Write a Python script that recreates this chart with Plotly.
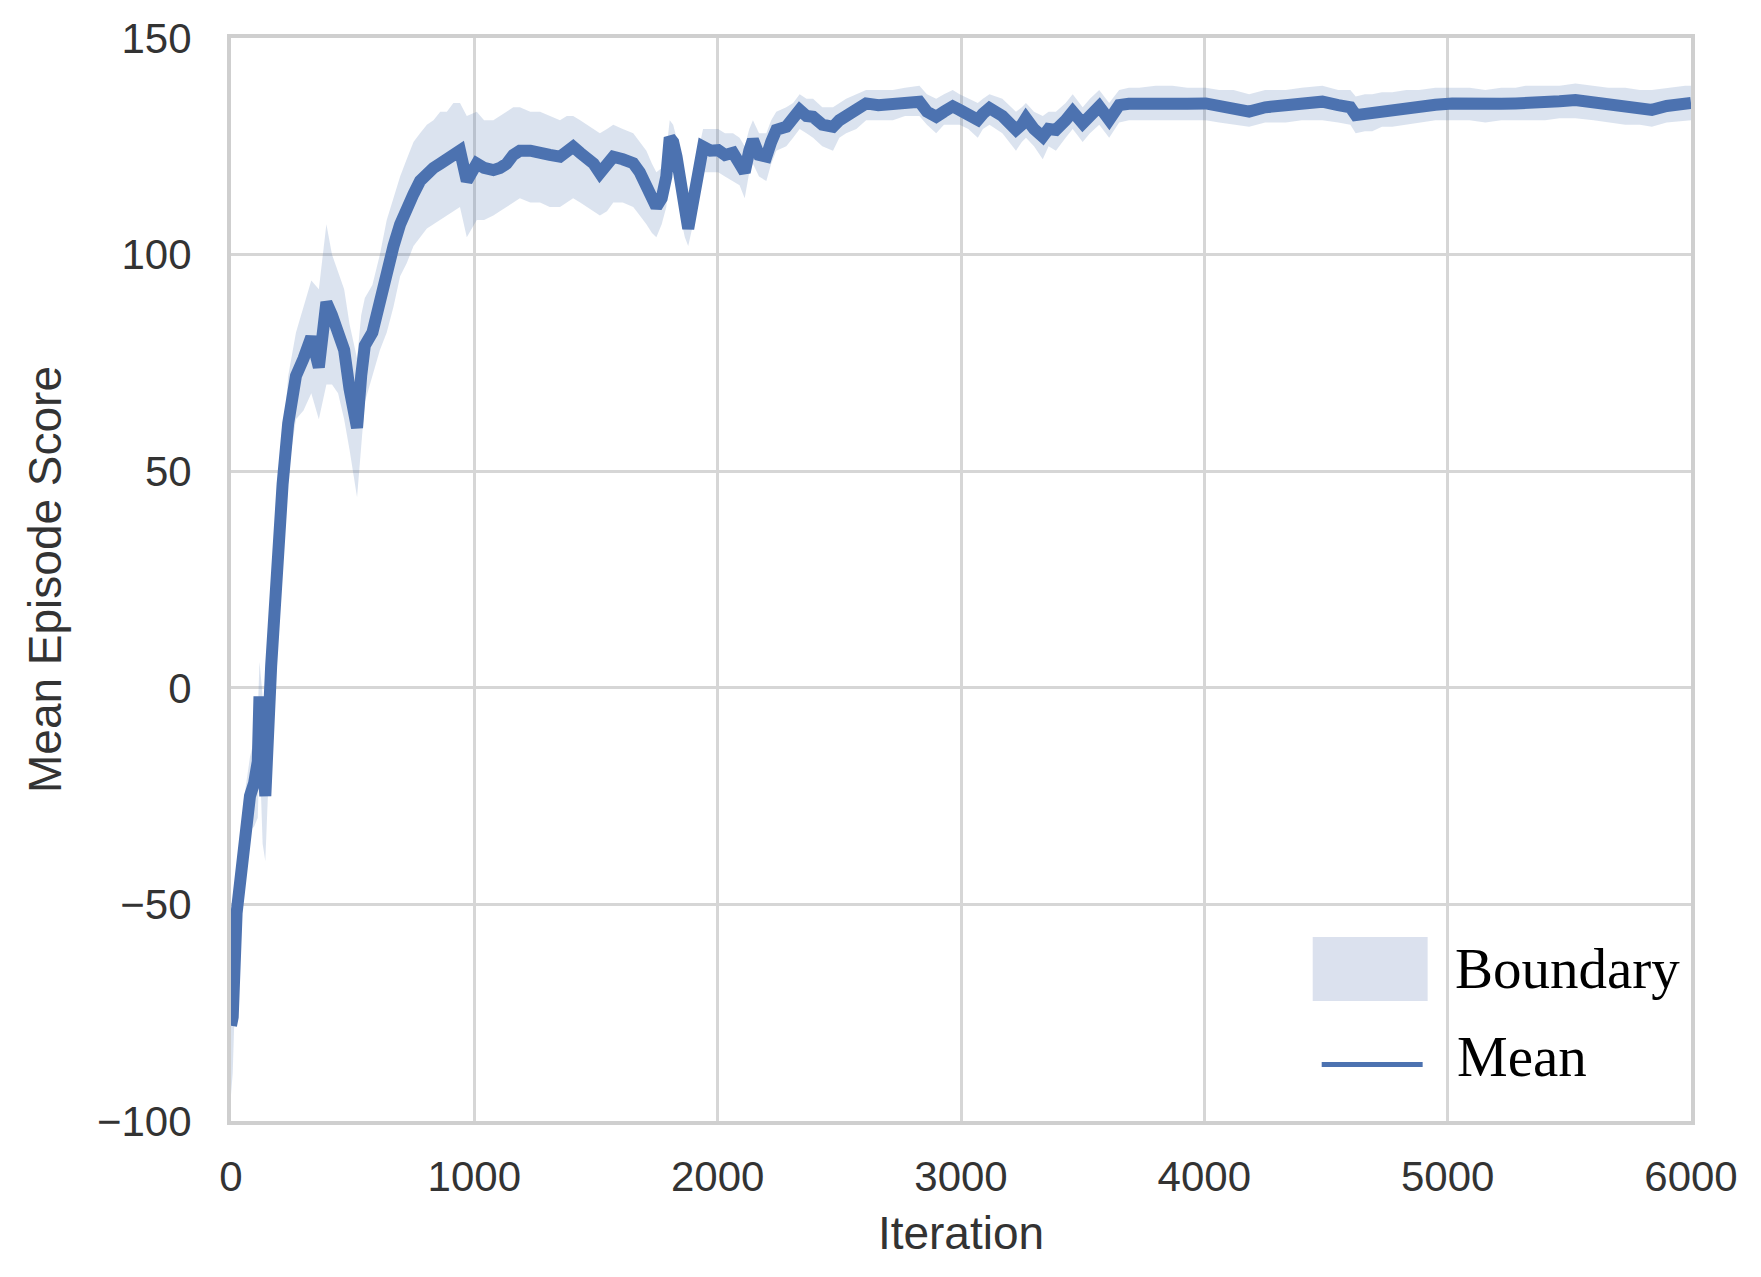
import plotly.graph_objects as go

# iteration positions
iteration = [
    0, 7, 23, 40, 55, 78, 95, 110, 117, 130, 141, 165, 188, 212, 235, 267, 298, 330, 361, 392,
    415, 440, 465, 487, 518, 535, 550, 581, 612, 640, 668, 695, 722, 750, 777, 805, 832, 860, 887, 914,
    941, 969, 1010, 1040, 1078, 1105, 1133, 1160, 1187, 1230, 1270, 1310, 1352, 1380, 1406, 1435, 1461, 1490, 1516, 1545,
    1571, 1610, 1653, 1680, 1707, 1730, 1748, 1770, 1789, 1803, 1817, 1831, 1850, 1865, 1879, 1895, 1913, 1940, 1970, 2002,
    2030, 2063, 2090, 2111, 2130, 2145, 2170, 2200, 2220, 2241, 2282, 2310, 2337, 2365, 2392, 2430, 2474, 2500, 2528, 2570,
    2610, 2660, 2720, 2770, 2829, 2860, 2898, 2930, 2966, 2994, 3030, 3069, 3090, 3117, 3170, 3226, 3250, 3267, 3300, 3336,
    3360, 3390, 3430, 3459, 3500, 3530, 3568, 3609, 3650, 3690, 3732, 3800, 3869, 3930, 4006, 4061, 4120, 4184, 4250, 4335,
    4400, 4485, 4550, 4600, 4622, 4660, 4690, 4730, 4772, 4830, 4882, 4950, 5019, 5090, 5155, 5220, 5279, 5320, 5400, 5460,
    5525, 5600, 5660, 5730, 5790, 5839, 5900, 5976, 6000,
]

mean_score = [
    -78, -76, -52, -42, -34, -25, -22, -17, -2, -18, -25, 5, 28, 47, 61, 72, 76, 81, 74, 89,
    86, 82, 78, 69, 60, 72, 79, 82, 90, 96, 102, 107, 111, 114, 117, 119, 120, 121, 122, 123,
    124, 117, 121, 120, 119.5, 120, 121, 123, 124, 124, 123.8, 123, 122.6, 123.5, 124.9, 123.5, 122.6, 121, 118.8, 121,
    122.6, 122, 121.1, 119, 115.7, 113, 111, 113, 118, 127, 126, 122.6, 116, 110, 106, 111, 116, 124.9, 124, 124.1,
    123, 123.5, 121, 119, 124, 126.5, 123, 122.6, 126, 128.8, 129.5, 131, 133.4, 132, 131.8, 130, 129.5, 131, 131.8, 133,
    134.9, 134.5, 134.9, 135, 135.3, 133, 131.8, 133, 134.2, 133.4, 132, 131.1, 132.5, 133.8, 132, 128.8, 130, 131.5, 129, 127.2,
    129, 128.8, 131, 133, 130.3, 132, 134.2, 131.1, 134.5, 134.8, 134.9, 135, 135.3, 134.8, 134.9, 134.5, 134, 133, 134, 134.5,
    134.8, 135.3, 134.5, 134, 132.2, 132.5, 132.6, 133.5, 133.4, 134, 134.2, 134.6, 134.9, 134.7, 134.5, 134.8, 134.9, 134.9, 135.2, 135.4,
    135.7, 135, 134.6, 134.2, 133.8, 133.4, 134.3, 134.9, 135,
]

boundary_low = [
    -94, -89, -60, -52, -42, -33, -32, -30, -14, -36, -40, -6, 18, 38, 50, 62, 64, 68, 62, 70,
    70, 68, 62, 55, 44, 56, 66, 72, 78, 82, 88, 95, 98, 102, 104, 106, 107, 108, 109, 110,
    111, 104, 108, 108, 109, 110, 111, 112, 113, 112, 112, 111, 111, 112, 113, 112, 111, 110, 109, 110,
    112, 112, 111, 109, 107, 105, 104, 107, 111, 121, 120, 115, 108, 104, 102, 106, 111, 119, 119, 119,
    118, 117, 116, 113, 119, 121, 118, 117, 121, 124, 125, 127, 129, 128, 127, 125, 124, 127, 128, 129,
    131, 131, 131, 132, 132, 130, 128, 130, 130, 130, 129, 127, 129, 130, 128, 124, 126, 127, 125, 122,
    125, 124, 127, 129, 126, 128, 130, 127, 130.5, 131, 131, 131, 131, 131, 131, 130.5, 130, 129.5, 130.5, 130.5,
    131, 131, 130.5, 130, 128, 128.5, 128.5, 129.5, 129.5, 130, 130.5, 131, 131, 131, 130.5, 131, 131, 131, 131, 131.5,
    131.5, 131, 130.5, 130, 130, 129.5, 130.5, 131, 131,
]

boundary_high = [
    -66, -64, -44, -34, -25, -16, -12, -6, 6, -2, -12, 14, 38, 56, 72, 82, 88, 94, 92, 107,
    100, 96, 92, 84, 76, 86, 90, 93, 100, 108, 113, 118, 122, 126, 128, 130, 131, 133, 133, 135,
    135, 132, 133, 131, 131, 132, 133, 134, 134, 133, 133, 132, 131, 132, 132, 131, 130, 129, 128, 129,
    130, 129, 128, 126, 124, 121, 119, 120, 124, 131, 130, 127, 122, 117, 114, 118, 122, 129, 129, 129,
    128, 128, 127, 125, 129, 131, 128, 128, 131, 133, 134, 135, 137, 136, 136, 134, 134, 135, 136, 137,
    138, 138, 138, 138.5, 139, 137, 136, 137, 138, 137, 136, 135, 136, 137, 136, 133, 134, 135, 133, 132,
    133, 133, 135, 137, 134, 136, 138, 135, 138, 138.5, 138.5, 139, 139, 138.5, 138.5, 138, 138, 137, 138, 138,
    138.5, 139, 138, 138, 136.5, 137, 137, 137.5, 137.5, 138, 138, 138.5, 138.5, 138.5, 138, 138.5, 138.5, 139, 139, 139,
    139.5, 139, 138.5, 138.5, 138, 138, 138.5, 139, 139,
]

x_ticks = [0, 1000, 2000, 3000, 4000, 5000, 6000]
y_ticks = [-100, -50, 0, 50, 100, 150]
legend_labels = ['Boundary', 'Mean']

line_color = '#4c72b0'
band_color = 'rgba(76, 114, 176, 0.2)'

fig = go.Figure()

# boundary band (lower edge, then upper edge filled down to it)
fig.add_trace(go.Scatter(
    x=iteration, y=boundary_low,
    mode='lines', line=dict(width=0, color=band_color),
    showlegend=False, hoverinfo='skip'
))
fig.add_trace(go.Scatter(
    x=iteration, y=boundary_high,
    mode='lines', line=dict(width=0, color=band_color),
    fill='tonexty', fillcolor=band_color,
    name=legend_labels[0], showlegend=False
))

# mean curve
fig.add_trace(go.Scatter(
    x=iteration, y=mean_score,
    mode='lines', line=dict(width=12, color=line_color),
    name=legend_labels[1], showlegend=False
))

# plot box in page pixels (the page adds an 8px body margin)
L, R, T, B = 230.7, 1691.5, 38, 1121
OFF = 8
def px(x):
    return (x - L) / (R - L)
def py(y):
    return (B - y) / (B - T)

# hand-drawn legend, like the reference (big patch + serif text)
fig.add_shape(type='rect', xref='paper', yref='paper',
              x0=px(1313), x1=px(1428), y0=py(1001), y1=py(937),
              fillcolor='#dbe1ee', line=dict(width=0))
fig.add_shape(type='line', xref='paper', yref='paper',
              x0=px(1322), x1=px(1423), y0=py(1064.5), y1=py(1064.5),
              line=dict(color=line_color, width=5))

legend_font = dict(family='Times New Roman, Liberation Serif, serif', size=57, color='black')
fig.add_annotation(x=px(1453), y=py(968), xref='paper', yref='paper',
                   text=legend_labels[0], showarrow=False,
                   xanchor='left', yanchor='middle', font=legend_font)
fig.add_annotation(x=px(1455), y=py(1056), xref='paper', yref='paper',
                   text=legend_labels[1], showarrow=False,
                   xanchor='left', yanchor='middle', font=legend_font)

tick_font = dict(family='Arial, Liberation Sans, sans-serif', size=42, color='#333333')
title_font = dict(family='Arial, Liberation Sans, sans-serif', size=46, color='#333333')

fig.update_xaxes(
    range=[0, 6000], tickvals=x_ticks,
    showgrid=True, gridcolor='#d6d6d6', gridwidth=3,
    showline=True, mirror=True, linecolor='#cfcfcf', linewidth=4,
    zeroline=False, ticks='', ticklabelstandoff=16,
    tickfont=tick_font,
    title=dict(text='Iteration', font=title_font, standoff=18),
    automargin=False,
)
fig.update_yaxes(
    range=[-100, 150], tickvals=y_ticks,
    showgrid=True, gridcolor='#d6d6d6', gridwidth=3,
    showline=True, mirror=True, linecolor='#cfcfcf', linewidth=4,
    zeroline=False, ticks='', ticklabelstandoff=27,
    tickfont=tick_font,
    title=dict(text='Mean Episode Score', font=title_font, standoff=22),
    automargin=False,
)

W, H = 1761 - OFF, 1277 - OFF
fig.update_layout(
    width=W, height=H,
    margin=dict(l=L - OFF, r=W - (R - OFF), t=T - OFF, b=H - (B - OFF)),
    paper_bgcolor='white', plot_bgcolor='white',
    showlegend=False,
)

fig.write_html('out.html')
